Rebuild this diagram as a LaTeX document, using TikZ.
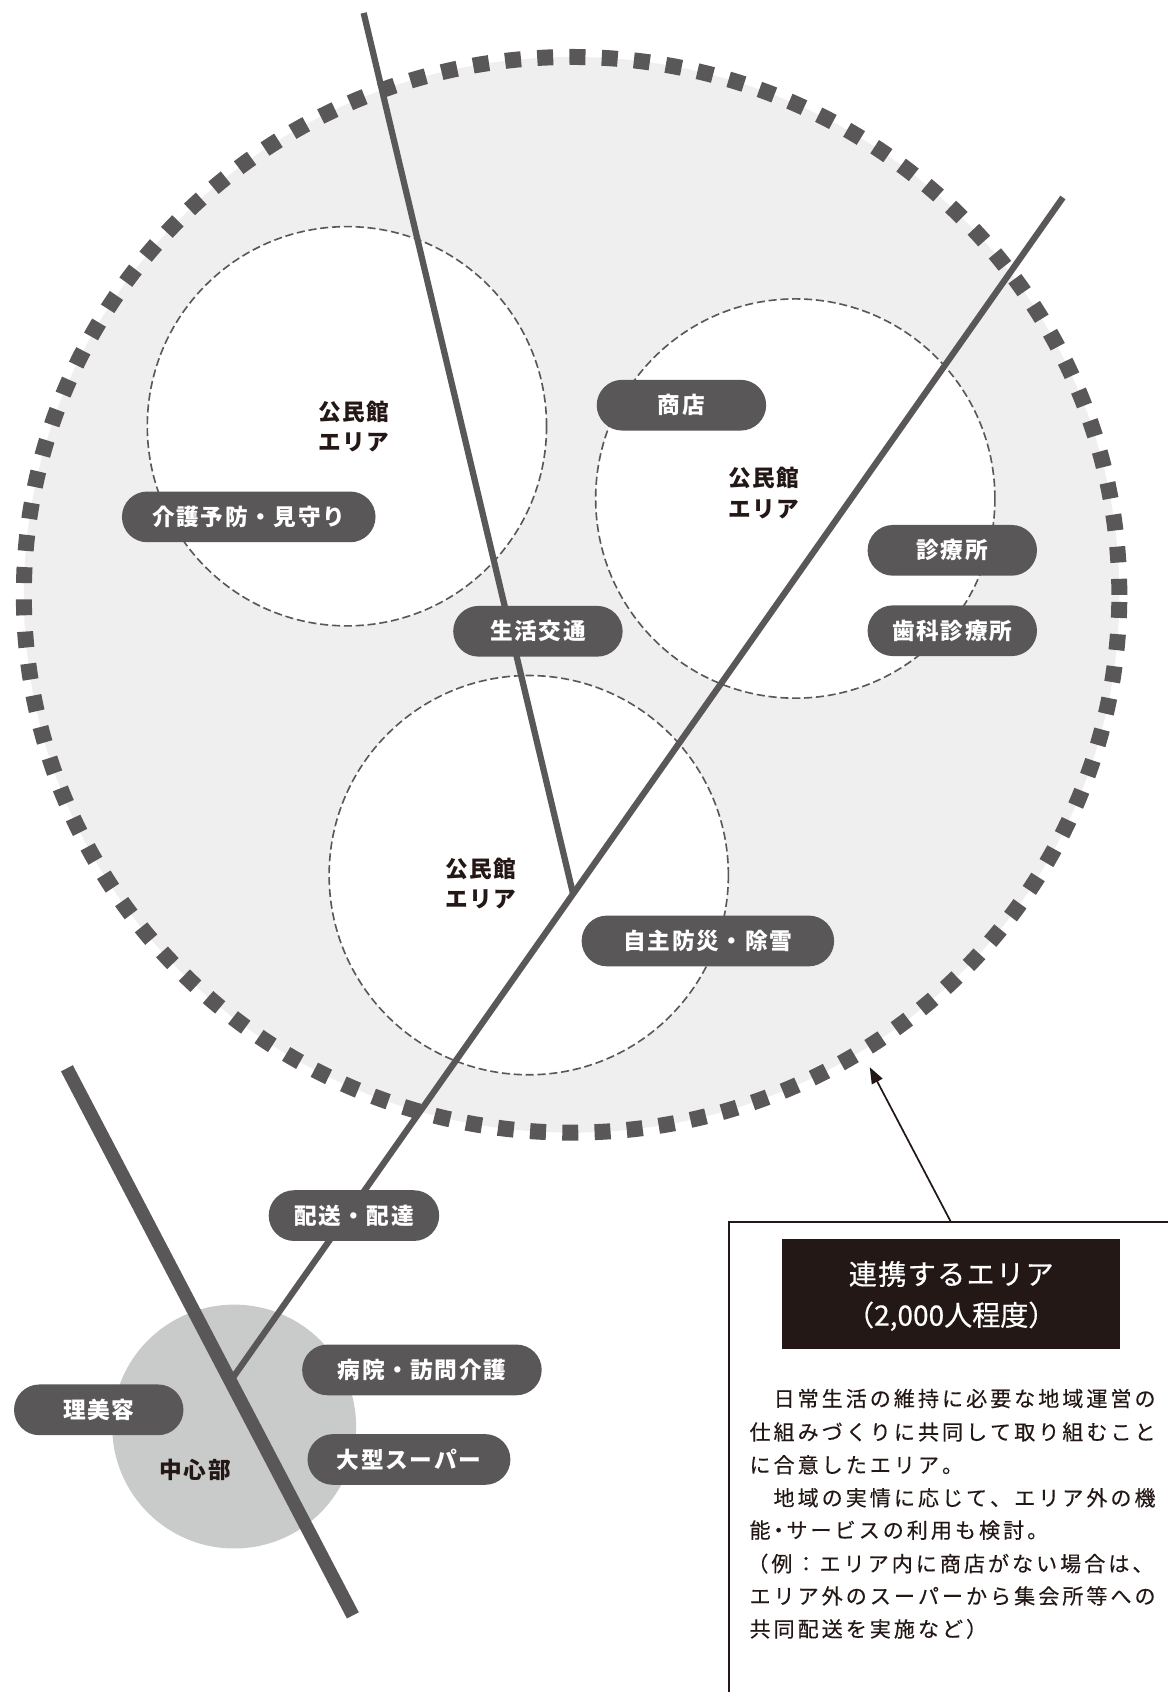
\documentclass[tikz,border=0pt]{standalone}
\usepackage{fontspec}
\setmainfont{Noto Sans CJK JP}
\usetikzlibrary{shapes.geometric,arrows.meta}
\definecolor{dk}{HTML}{595757}
\definecolor{txt}{HTML}{231815}
\definecolor{bgfill}{HTML}{EFEFEF}
\definecolor{ctr}{HTML}{C9CACA}
\newlength\cellw
\def\spcEnd{\spcEnd}
\def\spc#1{\spcA#1\spcEnd}
\def\spcA#1{\ifx#1\spcEnd\else\hbox to\cellw{\hss#1\hss}\expandafter\spcA\fi}
\newcommand\pilltext[1]{\setlength\cellw{22.5pt}\spc{#1}}
\newcommand\labtext[1]{\setlength\cellw{22.3pt}\spc{#1}}
\newcommand\bodytext[1]{\setlength\cellw{22.3pt}\spc{#1}}
\tikzset{
  bigarea/.style={ellipse, fill=bgfill, draw=dk, line width=14.8pt,
    dash pattern=on 14.8pt off 15.1pt, minimum width=1015.2pt, minimum height=996.8pt, inner sep=0pt},
  areacirc/.style={circle, fill=white, draw=dk, line width=1.5pt,
    dash pattern=on 7.5pt off 3.5pt, minimum size=370pt, inner sep=0pt},
  centercirc/.style={circle, fill=ctr, minimum size=226pt, inner sep=0pt},
  road/.style={draw=dk, line width=5.8pt},
  mainroad/.style={draw=dk, line width=12.4pt},
  pill/.style={fill=dk, rounded corners=23.5pt, minimum height=47pt, inner sep=0pt,
    text=white, font=\fontsize{21}{25}\bfseries},
  arealabel/.style={text=txt, align=center, inner sep=0pt, font=\fontsize{21}{28}\bfseries},
  infobox/.style={draw=txt, line width=1.8pt, minimum width=420pt, minimum height=436.5pt,
    anchor=north west, inner sep=0pt, outer sep=0pt},
  titlebox/.style={fill=txt, minimum width=313pt, minimum height=102pt, inner sep=0pt},
  titletext/.style={text=white, align=center, inner sep=0pt,
    font=\fontsize{26}{38}\selectfont\addfontfeature{FakeBold=0.6}},
  bodyline/.style={text=txt, anchor=west, inner sep=0pt,
    font=\fontsize{19.5}{24}\selectfont\addfontfeature{FakeBold=0.3}},
  pointer/.style={draw=txt, line width=1.6pt, -{Triangle[length=15pt,width=11pt]}}
}
\begin{document}
\begin{tikzpicture}[x=1pt,y=-1pt]
\useasboundingbox (0,0) rectangle (1082,1568);
% big area
\node[bigarea] (big) at (529.7,551.2) {};
% three community centre areas
\node[areacirc] (cA) at (321.5,395) {};
\node[areacirc] (cB) at (737,462) {};
\node[areacirc] (cC) at (490,811) {};
% centre
\node[centercirc] (hub) at (217,1322) {};
% roads
\coordinate (L1a) at (337,12);
\coordinate (J1) at (531,828);
\coordinate (L2a) at (985,183);
\coordinate (J2) at (213.5,1280);
\coordinate (L3a) at (62,990);
\coordinate (L3b) at (327,1497);
\draw[road] (L1a) -- (J1);
\draw[road] (L2a) -- (J2);
\draw[mainroad] (L3a) -- (L3b);
% pills
\node[pill, minimum width=157pt] (shop) at (631.5,375.5) {\pilltext{商店}};
\node[pill, minimum width=235pt] (care) at (230.5,479) {\pilltext{介護予防・見守り}};
\node[pill, minimum width=157pt] (bus) at (498.5,585) {\pilltext{生活交通}};
\node[pill, minimum width=157pt] (clinic) at (882.5,510) {\pilltext{診療所}};
\node[pill, minimum width=157pt] (dental) at (882.5,584.5) {\pilltext{歯科診療所}};
\node[pill, minimum width=234pt] (disaster) at (656,872) {\pilltext{自主防災・除雪}};
\node[pill, minimum width=158pt] (delivery) at (328,1126.5) {\pilltext{配送・配達}};
\node[pill, minimum width=222pt] (hospital) at (391,1269.5) {\pilltext{病院・訪問介護}};
\node[pill, minimum width=157pt] (barber) at (91.5,1306.5) {\pilltext{理美容}};
\node[pill, minimum width=188pt] (super) at (379,1352.5) {\pilltext{大型スーパー}};
% labels
\node[arealabel] (labA) at (328,395) {\labtext{公民館}\\\labtext{エリア}};
\node[arealabel] (labB) at (708,457) {\labtext{公民館}\\\labtext{エリア}};
\node[arealabel] (labC) at (446,819) {\labtext{公民館}\\\labtext{エリア}};
\node[arealabel] (labHub) at (181,1362) {\labtext{中心部}};
% info box
\node[infobox] (info) at (676,1132) {};
\node[titlebox] (tbox) at (881.5,1199) {};
\node[titletext] (ttext) at (881.5,1201) {\setlength\cellw{27.3pt}\spc{連携するエリア}\\（2,000人程度）};
\node[bodyline] (b1) at (693,1296) {\bodytext{　日常生活の維持に必要な地域運営の}};
\node[bodyline] (b2) at (693,1327) {\bodytext{仕組みづくりに共同して取り組むこと}};
\node[bodyline] (b3) at (693,1357.5) {\bodytext{に合意したエリア。}};
\node[bodyline] (b4) at (693,1388) {\bodytext{　地域の実情に応じて、エリア外の機}};
\node[bodyline] (b5) at (693,1418) {\bodytext{能}\hbox to 12pt{\hss・\hss}\bodytext{サービスの利用も検討。}};
\node[bodyline] (b6) at (691,1449) {\bodytext{（例：エリア内に商店がない場合は、}};
\node[bodyline] (b7) at (693,1479) {\bodytext{エリア外のスーパーから集会所等への}};
\node[bodyline] (b8) at (693,1509.5) {\bodytext{共同配送を実施など）}};
% pointer
\coordinate (pstart) at (881,1132);
\coordinate (ptip) at (806,989);
\draw[pointer] (pstart) -- (ptip);
\end{tikzpicture}
\end{document}
